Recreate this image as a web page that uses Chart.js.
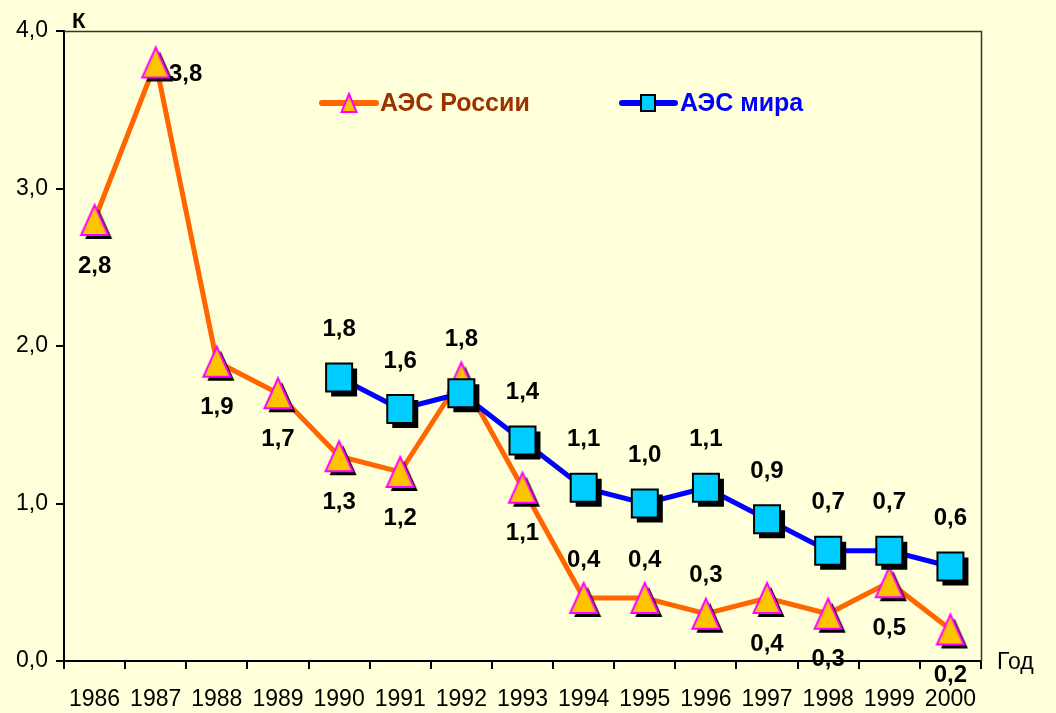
<!DOCTYPE html>
<html>
<head>
<meta charset="utf-8">
<script src="https://cdn.jsdelivr.net/npm/chart.js@4"></script>
<style>
  body { margin: 0; background: #FFFFD9; }
  canvas { display: block; }
</style>
</head>
<body>
<canvas id="myChart" width="1056" height="713"></canvas>
<script>
// data
var years = ["1986", "1987", "1988", "1989", "1990", "1991", "1992", "1993",
  "1994", "1995", "1996", "1997", "1998", "1999", "2000"];
var russia = [2.8, 3.8, 1.9, 1.7, 1.3, 1.2, 1.8, 1.1, 0.4, 0.4, 0.3, 0.4, 0.3, 0.5, 0.2];
var world = [null, null, null, null, 1.8, 1.6, 1.7, 1.4, 1.1, 1.0, 1.1, 0.9, 0.7, 0.7, 0.6];
var yTicks = [0, 1, 2, 3, 4];

// where each value label sits relative to its point
var russiaLabelPos = ["below", "right", "below", "below", "below", "below", "above", "below",
  "above", "above", "above", "below", "below", "below", "below"];
var worldLabelPos = [null, null, null, null, "above", "above", null, "above",
  "above", "above", "above", "above", "above", "above", "above"];

var FONT = "'Liberation Sans', Arial, sans-serif";

function fmt(v) {
  return v.toFixed(1).replace(".", ",");
}

// marker images with a black drop shadow
function triangleMarker(w, h, sh) {
  var c = document.createElement("canvas");
  var size = Math.max(w, h) + sh * 2 + 4;
  c.width = size; c.height = size;
  var g = c.getContext("2d");
  var cx = size / 2, cy = size / 2;
  function tri(dx, dy) {
    g.beginPath();
    g.moveTo(cx + dx, cy - h / 2 + dy);
    g.lineTo(cx + w / 2 + dx, cy + h / 2 + dy);
    g.lineTo(cx - w / 2 + dx, cy + h / 2 + dy);
    g.closePath();
  }
  if (sh) { tri(sh, sh); g.fillStyle = "#000"; g.fill(); }
  tri(0, 0);
  g.fillStyle = "#FFC400"; g.fill();
  g.lineWidth = 2; g.strokeStyle = "#FF00FF"; g.stroke();
  return c;
}

function squareMarker(w, h, sh) {
  var c = document.createElement("canvas");
  var size = Math.max(w, h) + sh * 2 + 4;
  c.width = size; c.height = size;
  var g = c.getContext("2d");
  var x = size / 2 - w / 2, y = size / 2 - h / 2;
  if (sh) { g.fillStyle = "#000"; g.fillRect(x + sh, y + sh, w, h); }
  g.fillStyle = "#00CCFF"; g.fillRect(x, y, w, h);
  g.lineWidth = 2; g.strokeStyle = "#000"; g.strokeRect(x, y, w, h);
  return c;
}

var triImg = triangleMarker(27, 30, 4);
var sqImg = squareMarker(26, 28, 5);
var triSmall = triangleMarker(15, 18, 0);
var sqSmall = squareMarker(14, 16, 0);

var decorPlugin = {
  id: "decor",
  afterDatasetsDraw: function (chart) {
    var g = chart.ctx;
    var area = chart.chartArea;
    g.save();
    // frame: top + right
    g.strokeStyle = "#333";
    g.lineWidth = 1.5;
    g.beginPath();
    g.moveTo(area.left, area.top + 0.5);
    g.lineTo(area.right + 0.5, area.top + 0.5);
    g.lineTo(area.right + 0.5, area.bottom);
    g.stroke();

    // value labels
    g.fillStyle = "#000";
    g.font = "bold 24px " + FONT;
    g.textAlign = "center";
    g.textBaseline = "middle";
    var sets = [[1, russiaLabelPos], [0, worldLabelPos]];
    sets.forEach(function (s) {
      var meta = chart.getDatasetMeta(s[0]);
      var vals = chart.data.datasets[s[0]].data;
      meta.data.forEach(function (pt, i) {
        var pos = s[1][i];
        if (!pos || vals[i] == null) return;
        var x = pt.x, y = pt.y;
        if (pos === "below") y += 46;
        else if (pos === "above") y -= (s[0] === 0 ? 48 : 38);
        else if (pos === "right") { x += 30; y += 12; }
        g.fillText(fmt(vals[i]), x, y);
      });
    });

    // axis titles
    g.font = "bold 22px " + FONT;
    g.textAlign = "left";
    g.textBaseline = "alphabetic";
    g.fillText("К", 72, 28);
    g.font = "23px " + FONT;
    g.fillText("Год", 997, 669);

    // legend
    var ly = 103;
    g.lineCap = "round";
    g.lineWidth = 6;
    g.strokeStyle = "#FF6600";
    g.beginPath(); g.moveTo(322, ly); g.lineTo(376, ly); g.stroke();
    g.drawImage(triSmall, 349 - triSmall.width / 2, ly - triSmall.height / 2);
    g.strokeStyle = "#0000FF";
    g.beginPath(); g.moveTo(622, ly); g.lineTo(675, ly); g.stroke();
    g.drawImage(sqSmall, 648 - sqSmall.width / 2, ly - sqSmall.height / 2);
    g.font = "bold 25px " + FONT;
    g.textBaseline = "middle";
    g.fillStyle = "#993300";
    g.fillText("АЭС России", 380, ly + 1);
    g.fillStyle = "#0000FF";
    g.fillText("АЭС мира", 680, ly + 1);
    g.restore();
  }
};

var ctx = document.getElementById("myChart");
var myChart = new Chart(ctx, {
  type: "line",
  data: {
    labels: years,
    datasets: [
      {
        label: "АЭС мира",
        data: world,
        borderColor: "#0000FF",
        borderWidth: 5,
        pointStyle: sqImg,
        order: 0,
        spanGaps: false,
      },
      {
        label: "АЭС России",
        data: russia,
        borderColor: "#FF6600",
        borderWidth: 5,
        pointStyle: triImg,
        order: 1,
      },
    ],
  },
  options: {
    responsive: false,
    animation: false,
    events: [],
    layout: { padding: { top: 31, right: 75, left: 0, bottom: 0 } },
    elements: { line: { tension: 0 } },
    scales: {
      x: {
        offset: true,
        grid: { offset: true, drawOnChartArea: false, tickLength: 8, color: "#000", lineWidth: 2 },
        border: { color: "#000", width: 2 },
        ticks: { color: "#000", font: { family: FONT, size: 23 }, padding: 17, maxRotation: 0, autoSkip: false },
        afterFit: function (s) { s.height = 52; },
      },
      y: {
        min: 0,
        max: 4,
        afterBuildTicks: function (s) { s.ticks = yTicks.map(function (v) { return { value: v }; }); },
        grid: { drawOnChartArea: false, tickLength: 8, color: "#000", lineWidth: 2 },
        border: { color: "#000", width: 2 },
        ticks: { color: "#000", font: { family: FONT, size: 23 }, padding: 8, callback: function (v) { return fmt(v); } },
        afterFit: function (s) { s.width = 64; },
      },
    },
    plugins: {
      legend: { display: false },
      tooltip: { enabled: false },
    },
  },
  plugins: [decorPlugin],
});
</script>
</body>
</html>
